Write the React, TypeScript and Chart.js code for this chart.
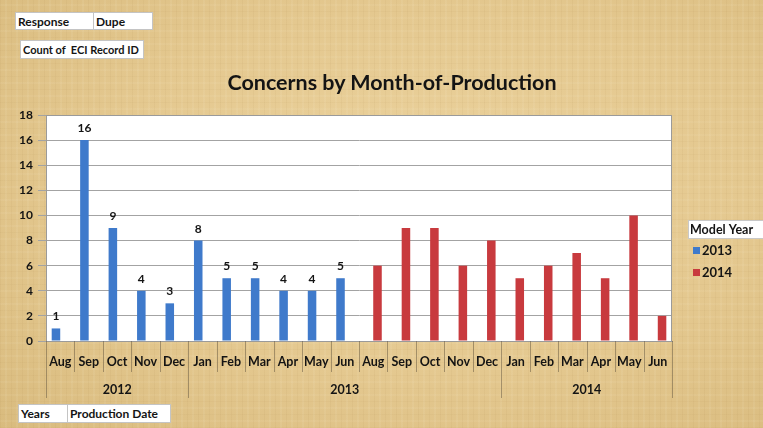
import React, { useEffect, useRef } from "react";
import { Chart, registerables } from "chart.js";

Chart.register(...registerables);

const months = ["Aug","Sep","Oct","Nov","Dec","Jan","Feb","Mar","Apr","May","Jun","Aug","Sep","Oct","Nov","Dec","Jan","Feb","Mar","Apr","May","Jun"];
const yearLabels = ["2012", "2013", "2014"];
const yearSpans = [5, 11, 6];
const series2013 = [1, 16, 9, 4, 3, 8, 5, 5, 4, 4, 5, null, null, null, null, null, null, null, null, null, null, null];
const series2014 = [null, null, null, null, null, null, null, null, null, null, null, 6, 9, 9, 6, 8, 5, 6, 7, 5, 10, 2];
const seriesNames = ["2013", "2014"];
const yTicks = { min: 0, max: 18, step: 2 };

const FONT = "Lato, 'Open Sans', sans-serif";
const INK = "#141414";

const plotBg = {
  id: "plotBg",
  beforeDraw(chart: any) {
    const { ctx, chartArea: a } = chart;
    ctx.save();
    ctx.fillStyle = "#ffffff";
    ctx.fillRect(a.left, a.top, a.right - a.left, a.bottom - a.top);
    ctx.restore();
  },
  afterDraw(chart: any) {
    const { ctx, chartArea: a } = chart;
    ctx.save();
    ctx.strokeStyle = "#9a9a9a";
    ctx.lineWidth = 1;
    ctx.strokeRect(a.left + 0.5, a.top + 0.5, a.right - a.left - 1, a.bottom - a.top);
    ctx.restore();
  },
};

const multiLevelAxis = {
  id: "multiLevelAxis",
  afterDraw(chart: any) {
    const { ctx, chartArea: a } = chart;
    const n = months.length;
    const cw = (a.right - a.left) / n;
    const bounds = [0];
    yearSpans.forEach((s) => bounds.push(bounds[bounds.length - 1] + s));
    ctx.save();
    ctx.strokeStyle = "rgba(110,95,70,0.55)";
    ctx.lineWidth = 1;
    for (let i = 0; i <= n; i++) {
      const x = Math.round(a.left + i * cw) + 0.5;
      const isGroup = bounds.includes(i);
      ctx.beginPath();
      ctx.moveTo(x, a.bottom);
      ctx.lineTo(x, a.bottom + (isGroup ? 57 : 31));
      ctx.stroke();
    }
    ctx.fillStyle = INK;
    ctx.font = `bold 12.5px ${FONT}`;
    ctx.textAlign = "center";
    ctx.textBaseline = "middle";
    yearLabels.forEach((lab, k) => {
      const cx = a.left + ((bounds[k] + bounds[k + 1]) / 2) * cw;
      ctx.fillText(lab, cx, a.bottom + 49);
    });
    ctx.restore();
  },
};

const dataLabels = {
  id: "dataLabels",
  afterDatasetsDraw(chart: any) {
    const { ctx } = chart;
    const meta = chart.getDatasetMeta(0);
    const ds = chart.data.datasets[0];
    ctx.save();
    ctx.fillStyle = INK;
    ctx.font = `bold 12px ${FONT}`;
    ctx.textAlign = "center";
    ctx.textBaseline = "alphabetic";
    meta.data.forEach((el: any, i: number) => {
      const v = ds.data[i];
      if (v === null || v === undefined) return;
      ctx.fillText(String(v), el.x, el.y - 8);
    });
    ctx.restore();
  },
};

const sideLegend = {
  id: "sideLegend",
  afterDraw(chart: any) {
    const { ctx, chartArea: a } = chart;
    const x0 = a.right + 16;
    const y0 = a.top + 105;
    ctx.save();
    ctx.fillStyle = "#ffffff";
    ctx.fillRect(x0, y0, 90, 18);
    ctx.strokeStyle = "#c8c8c8";
    ctx.strokeRect(x0 + 0.5, y0 + 0.5, 90, 18);
    ctx.fillStyle = INK;
    ctx.font = `bold 12.5px ${FONT}`;
    ctx.textBaseline = "middle";
    ctx.textAlign = "left";
    ctx.fillText("Model Year", x0 + 2, y0 + 9.5);
    chart.data.datasets.forEach((ds: any, i: number) => {
      const yy = y0 + 30 + i * 22;
      ctx.fillStyle = ds.backgroundColor;
      ctx.fillRect(x0 + 5, yy - 3, 7, 7);
      ctx.fillStyle = INK;
      ctx.font = `bold 13px ${FONT}`;
      ctx.fillText(ds.label, x0 + 14, yy + 0.5);
    });
    ctx.restore();
  },
};

const boxStyle: React.CSSProperties = {
  position: "absolute",
  background: "#fff",
  border: "1px solid #c4c4c4",
  font: `bold 12px ${FONT}`,
  color: INK,
  display: "flex",
  alignItems: "center",
  paddingLeft: 2,
  boxSizing: "border-box",
  whiteSpace: "nowrap",
};

export default function App() {
  const ref = useRef<HTMLCanvasElement>(null);

  useEffect(() => {
    document.body.style.margin = "0";
    const chart = new Chart(ref.current as HTMLCanvasElement, {
      type: "bar",
      data: {
        labels: months,
        datasets: [
          { label: seriesNames[0], data: series2013 as any, backgroundColor: "#3f7acb" },
          { label: seriesNames[1], data: series2014 as any, backgroundColor: "#c83a3e" },
        ],
      },
      options: {
        animation: false,
        responsive: false,
        maintainAspectRatio: false,
        layout: { padding: { left: 0, right: 91, top: 115, bottom: 0 } },
        datasets: { bar: { categoryPercentage: 0.6, barPercentage: 1 } } as any,
        plugins: { legend: { display: false }, tooltip: { enabled: false }, title: { display: false } },
        scales: {
          x: {
            grid: { display: false, drawTicks: false },
            border: { display: true, color: "#9a9a9a" },
            ticks: { color: INK, font: { family: FONT, size: 12.5, weight: "bold" }, padding: 13, maxRotation: 0, autoSkip: false },
            afterFit: (s: any) => { s.height = 87; },
          },
          y: {
            min: yTicks.min,
            max: yTicks.max,
            grid: { color: "#a3a3a3", tickLength: 8, drawTicks: true },
            border: { display: true, color: "#9a9a9a" },
            ticks: { stepSize: yTicks.step, color: INK, font: { family: FONT, size: 12, weight: "bold" }, padding: 5 },
            afterFit: (s: any) => { s.width = 46; },
          },
        },
      },
      plugins: [plotBg, multiLevelAxis, dataLabels, sideLegend],
    });
    return () => chart.destroy();
  }, []);

  return (
    <div
      style={{
        position: "fixed",
        left: 0,
        top: 0,
        width: 763,
        height: 428,
        overflow: "hidden",
        background:
          "repeating-linear-gradient(90deg, rgba(140,100,40,0.05) 0 1px, transparent 1px 5px, rgba(255,250,230,0.07) 5px 7px, transparent 7px 11px), repeating-linear-gradient(0deg, rgba(140,100,40,0.04) 0 1px, transparent 1px 6px, rgba(255,250,230,0.06) 6px 8px, transparent 8px 13px), radial-gradient(ellipse at 55% 45%, #ecd39e 0%, #e4c88f 55%, #d9bb7e 100%)",
      }}
    >
      <div style={{ ...boxStyle, left: 15, top: 12, width: 79, height: 18 }}>Response</div>
      <div style={{ ...boxStyle, left: 93, top: 12, width: 60, height: 18 }}>Dupe</div>
      <div style={{ ...boxStyle, left: 20, top: 40, width: 124, height: 19, fontSize: 11 }}>Count of&nbsp;&nbsp;ECI Record ID</div>
      <div
        style={{
          position: "absolute",
          left: 0,
          width: 784,
          top: 69,
          textAlign: "center",
          font: `bold 21.5px ${FONT}`,
          color: INK,
        }}
      >
        Concerns by Month-of-Production
      </div>
      <canvas ref={ref} width={763} height={428} style={{ position: "absolute", left: 0, top: 0 }} />
      <div style={{ ...boxStyle, left: 18, top: 404, width: 50, height: 19 }}>Years</div>
      <div style={{ ...boxStyle, left: 67, top: 404, width: 104, height: 19 }}>Production Date</div>
    </div>
  );
}
